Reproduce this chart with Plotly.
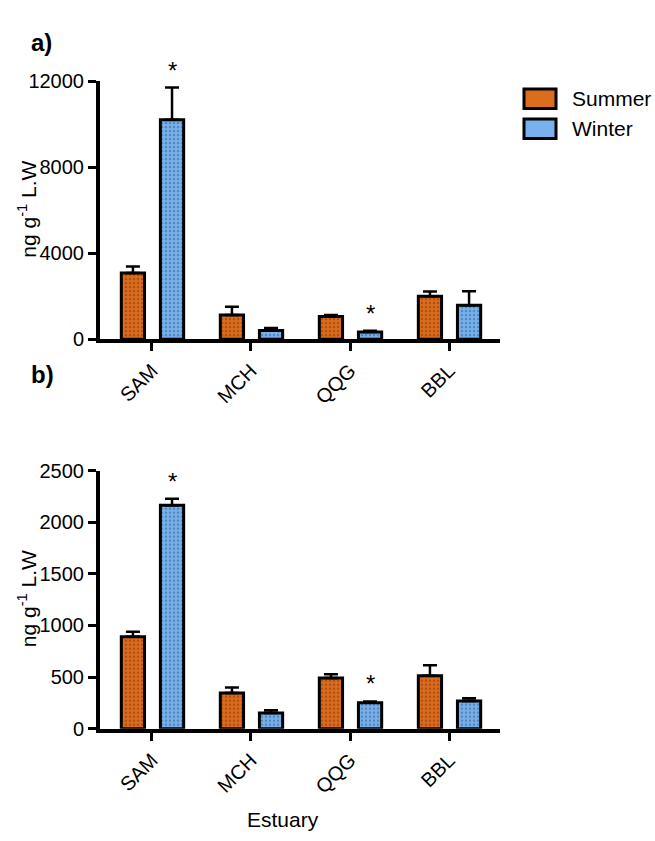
import plotly.graph_objects as go

categories = ["SAM", "MCH", "QQG", "BBL"]

# Panel a values (ng g-1 L.W)
summer_a = [3080, 1130, 1050, 2000]
summer_a_err = [300, 380, 70, 220]
winter_a = [10200, 400, 330, 1580]
winter_a_err = [1500, 120, 60, 650]
winter_a_sig = ["*", "", "*", ""]

# Panel b values (ng g-1 L.W)
summer_b = [890, 345, 492, 514]
summer_b_err = [50, 55, 35, 100]
winter_b = [2165, 153, 252, 269]
winter_b_err = [62, 26, 12, 26]
winter_b_sig = ["*", "", "*", ""]

ORANGE = "#DC6C1E"
ORANGE_DOT = "#7a3608"
BLUE = "#78B1EB"
BLUE_DOT = "#2f5a8c"
FONT = "Liberation Sans, Arial, sans-serif"

W, H = 655, 841

def px_x(p):
    return p / W

def px_y(p):
    return 1 - p / H

fig = go.Figure()

xpos = list(range(len(categories)))
bar_w = 0.235

def add_panel(summer, serr, winter, werr, xa, ya):
    fig.add_trace(go.Bar(
        x=xpos, y=summer, name="Summer", width=bar_w, offset=-0.31,
        marker=dict(color=ORANGE, line=dict(color="black", width=3),
                    pattern=dict(shape=".", fgcolor=ORANGE_DOT, size=4, solidity=0.3)),
        error_y=dict(type="data", array=serr, arrayminus=[0]*len(serr),
                     color="black", thickness=2.5, width=7),
        xaxis=xa, yaxis=ya, showlegend=False))
    fig.add_trace(go.Bar(
        x=xpos, y=winter, name="Winter", width=bar_w, offset=0.085,
        marker=dict(color=BLUE, line=dict(color="black", width=3),
                    pattern=dict(shape=".", fgcolor=BLUE_DOT, size=4, solidity=0.3)),
        error_y=dict(type="data", array=werr, arrayminus=[0]*len(werr),
                     color="black", thickness=2.5, width=7),
        xaxis=xa, yaxis=ya, showlegend=False))

add_panel(summer_a, summer_a_err, winter_a, winter_a_err, "x", "y")
add_panel(summer_b, summer_b_err, winter_b, winter_b_err, "x2", "y2")

# significance stars
for xr, yr, vals, errs, sig in [("x", "y", winter_a, winter_a_err, winter_a_sig),
                                ("x2", "y2", winter_b, winter_b_err, winter_b_sig)]:
    for i, s in enumerate(sig):
        if s:
            fig.add_annotation(x=i + 0.085 + bar_w / 2, y=vals[i] + errs[i], xref=xr, yref=yr,
                               text=s, showarrow=False, yanchor="bottom", yshift=2,
                               font=dict(family=FONT, size=24, color="black"))

xdom = [px_x(100), px_x(500)]
axis_common = dict(showline=True, linewidth=4, linecolor="black", ticks="outside",
                   ticklen=8, tickwidth=3, tickcolor="black", showgrid=False, zeroline=False,
                   tickfont=dict(family=FONT, size=20, color="black"))

fig.update_layout(
    width=W, height=H, margin=dict(l=0, r=0, t=0, b=0),
    plot_bgcolor="white", paper_bgcolor="white",
    barmode="overlay", showlegend=False,
    xaxis=dict(domain=xdom, range=[-0.525, 3.515], tickmode="array", tickvals=xpos,
               ticktext=categories, tickangle=-45, anchor="y", **axis_common),
    yaxis=dict(domain=[px_y(337), px_y(72)], range=[0, 12000], dtick=4000, anchor="x",
               tickformat="d", **axis_common),
    xaxis2=dict(domain=xdom, range=[-0.525, 3.515], tickmode="array", tickvals=xpos,
                ticktext=categories, tickangle=-45, anchor="y2", **axis_common),
    yaxis2=dict(domain=[px_y(737), px_y(472)], range=[0, 2500], dtick=500, anchor="x2",
                tickformat="d", **axis_common),
)

ytitle = "ng g<sup>-1</sup> L.W"
for cy in [204, 604]:
    fig.add_annotation(x=px_x(27), y=px_y(cy), xref="paper", yref="paper", text=ytitle,
                       textangle=-90, showarrow=False, xanchor="center", yanchor="middle",
                       font=dict(family=FONT, size=21, color="black"))

fig.add_annotation(x=px_x(283), y=px_y(830), xref="paper", yref="paper", text="Estuary",
                   showarrow=False, xanchor="center", yanchor="middle",
                   font=dict(family=FONT, size=21, color="black"))

for txt, cy in [("a)", 32), ("b)", 373)]:
    fig.add_annotation(x=px_x(29), y=px_y(cy), xref="paper", yref="paper", text="<b>%s</b>" % txt,
                       showarrow=False, xanchor="left", yanchor="middle",
                       font=dict(family=FONT, size=24, color="black"))

# legend
for name, col, top in [("Summer", ORANGE, 80), ("Winter", BLUE, 111)]:
    fig.add_shape(type="rect", xref="paper", yref="paper",
                  x0=px_x(524), x1=px_x(556), y0=px_y(top + 20), y1=px_y(top),
                  fillcolor=col, line=dict(color="black", width=3))
    fig.add_annotation(x=px_x(570), y=px_y(top + 10), xref="paper", yref="paper", text=name,
                       showarrow=False, xanchor="left", yanchor="middle",
                       font=dict(family=FONT, size=21, color="black"))

fig.write_html("out.html", config={"displayModeBar": False},
               post_script="document.body.style.margin='0';document.documentElement.style.margin='0';")
